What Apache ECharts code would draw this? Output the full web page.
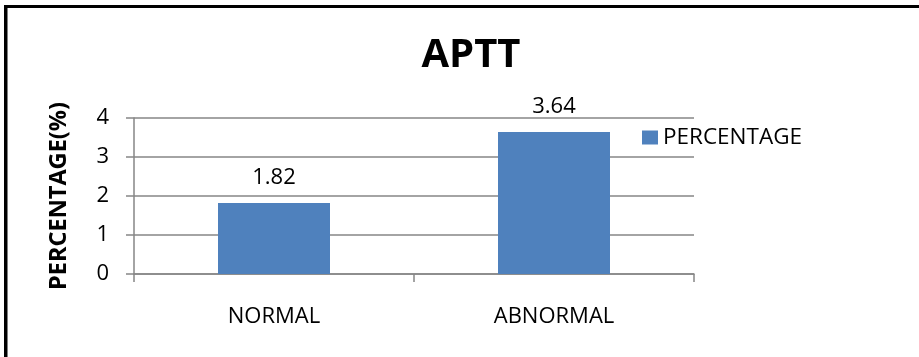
<!DOCTYPE html>
<html>
<head>
<meta charset="utf-8">
<script src="https://cdn.jsdelivr.net/npm/echarts@6/dist/echarts.min.js"></script>
<style>
  html, body { margin: 0; padding: 0; background: #fff; }
  #chart { width: 919px; height: 357px; }
</style>
</head>
<body>
<div id="chart"></div>
<script>
// APTT results by category
const categories = ['NORMAL', 'ABNORMAL'];
const percentage = [1.82, 3.64];
const yTicks = [0, 1, 2, 3, 4];

const FONT = '"Open Sans", "Liberation Sans", sans-serif';
const GRID_COLOR = '#868686';

const chart = echarts.init(document.getElementById('chart'), null, { renderer: 'canvas' });

chart.setOption({
  animation: false,
  backgroundColor: '#ffffff',
  textStyle: { fontFamily: FONT },
  title: {
    text: 'APTT',
    left: 471,
    top: 36,
    padding: 0,
    textAlign: 'center',
    textStyle: { fontFamily: FONT, fontWeight: 'bold', fontSize: 40, color: '#000' }
  },
  legend: {
    left: 642,
    top: 126,
    padding: 0,
    itemWidth: 16,
    itemHeight: 14,
    itemGap: 6,
    icon: 'rect',
    textStyle: { fontFamily: FONT, fontSize: 22.5, color: '#000', padding: [0, 0, 0, 0] },
    data: ['PERCENTAGE']
  },
  grid: { left: 134, right: 225, top: 118, bottom: 83, containLabel: false },
  xAxis: {
    type: 'category',
    data: categories,
    boundaryGap: true,
    axisLine: { lineStyle: { color: GRID_COLOR, width: 1.5 } },
    axisTick: { show: true, length: 8, lineStyle: { color: GRID_COLOR, width: 1.5 } },
    axisLabel: { margin: 32, fontFamily: FONT, fontSize: 22, color: '#000' }
  },
  yAxis: {
    type: 'value',
    min: yTicks[0],
    max: yTicks[yTicks.length - 1],
    interval: 1,
    name: 'PERCENTAGE(%)',
    nameLocation: 'middle',
    nameGap: 63,
    nameRotate: 90,
    nameTextStyle: { fontFamily: FONT, fontWeight: 'bold', fontSize: 23.5, color: '#000' },
    axisLine: { show: true, lineStyle: { color: GRID_COLOR, width: 1.5 } },
    axisTick: { show: true, length: 8, lineStyle: { color: GRID_COLOR, width: 1.5 } },
    axisLabel: { margin: 25, fontFamily: FONT, fontSize: 22, color: '#000' },
    splitLine: { show: true, lineStyle: { color: GRID_COLOR, width: 1.5 } }
  },
  series: [{
    name: 'PERCENTAGE',
    type: 'bar',
    data: percentage,
    barWidth: '40%',
    itemStyle: { color: '#4F81BD' },
    label: {
      show: true,
      position: 'top',
      distance: 14,
      fontFamily: FONT,
      fontSize: 22,
      color: '#000',
      formatter: p => p.value.toFixed(2)
    }
  }],
  graphic: [
    // frame around the chart (top and left edges)
    { type: 'rect', shape: { x: 4, y: 5, width: 915, height: 3 }, style: { fill: '#000' }, silent: true },
    { type: 'rect', shape: { x: 4, y: 5, width: 3.5, height: 352 }, style: { fill: '#000' }, silent: true }
  ]
});
</script>
</body>
</html>
